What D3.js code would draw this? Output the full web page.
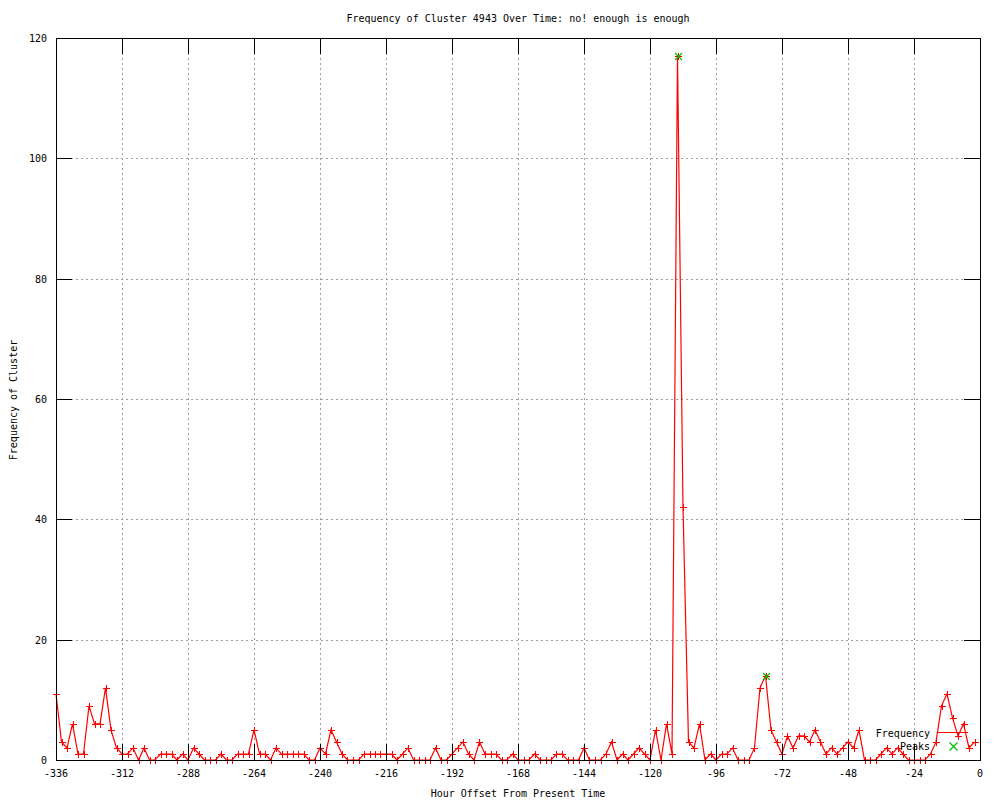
<!DOCTYPE html>
<html>
<head>
<meta charset="utf-8">
<script src="https://cdn.jsdelivr.net/npm/d3@7"></script>
<style>
  body { margin: 0; background: #fff; }
  text { font-family: "DejaVu Sans Mono", monospace; font-size: 10px; fill: #000; }
</style>
</head>
<body>
<div class="chart"></div>
<script>
// hours before now, one sample every 2 hours
const hours = [
  -336, -334, -332, -330, -328, -326, -324, -322, -320, -318, -316, -314,
  -312, -310, -308, -306, -304, -302, -300, -298, -296, -294, -292, -290,
  -288, -286, -284, -282, -280, -278, -276, -274, -272, -270, -268, -266,
  -264, -262, -260, -258, -256, -254, -252, -250, -248, -246, -244, -242,
  -240, -238, -236, -234, -232, -230, -228, -226, -224, -222, -220, -218,
  -216, -214, -212, -210, -208, -206, -204, -202, -200, -198, -196, -194,
  -192, -190, -188, -186, -184, -182, -180, -178, -176, -174, -172, -170,
  -168, -166, -164, -162, -160, -158, -156, -154, -152, -150, -148, -146,
  -144, -142, -140, -138, -136, -134, -132, -130, -128, -126, -124, -122,
  -120, -118, -116, -114, -112, -110, -108, -106, -104, -102, -100, -98,
  -96, -94, -92, -90, -88, -86, -84, -82, -80, -78, -76, -74,
  -72, -70, -68, -66, -64, -62, -60, -58, -56, -54, -52, -50,
  -48, -46, -44, -42, -40, -38, -36, -34, -32, -30, -28, -26,
  -24, -22, -20, -18, -16, -14, -12, -10, -8, -6, -4, -2
]
const frequency = [
  11, 3, 2, 6, 1, 1, 9, 6, 6, 12, 5, 2,
  1, 1, 2, 0, 2, 0, 0, 1, 1, 1, 0, 1,
  0, 2, 1, 0, 0, 0, 1, 0, 0, 1, 1, 1,
  5, 1, 1, 0, 2, 1, 1, 1, 1, 1, 0, 0,
  2, 1, 5, 3, 1, 0, 0, 0, 1, 1, 1, 1,
  1, 1, 0, 1, 2, 0, 0, 0, 0, 2, 0, 0,
  1, 2, 3, 1, 0, 3, 1, 1, 1, 0, 0, 1,
  0, 0, 0, 1, 0, 0, 0, 1, 1, 0, 0, 0,
  2, 0, 0, 0, 1, 3, 0, 1, 0, 1, 2, 1,
  0, 5, 0, 6, 1, 117, 42, 3, 2, 6, 0, 1,
  0, 1, 1, 2, 0, 0, 0, 2, 12, 14, 5, 3,
  1, 4, 2, 4, 4, 3, 5, 3, 1, 2, 1, 2,
  3, 2, 5, 0, 0, 0, 1, 2, 1, 2, 1, 0,
  0, 0, 0, 1, 3, 9, 11, 7, 4, 6, 2, 3
]
const peakHours = [-110, -78]
const peakValues = [117, 14]

const xTicks = [-336, -312, -288, -264, -240, -216, -192, -168, -144, -120, -96, -72, -48, -24, 0]
const yTicks = [0, 20, 40, 60, 80, 100, 120]

const titleText = "Frequency of Cluster 4943 Over Time: no! enough is enough"
const xLabel = "Hour Offset From Present Time"
const yLabel = "Frequency of Cluster"

let width = 1000
let height = 800
let plotLeft = 56, plotRight = 980, plotTop = 38, plotBottom = 760
let tic = 16

let svg = d3.select(".chart")
    .append("svg")
    .attr("width", width)
    .attr("height", height)

let x = d3.scaleLinear().domain([-336, 0]).range([plotLeft, plotRight])
let y = d3.scaleLinear().domain([0, 120]).range([plotBottom, plotTop])

// dotted grid
let grid = svg.append("g")
    .attr("stroke", "#a0a0a0")
    .attr("stroke-width", 1)
    .attr("stroke-dasharray", "2,3")
    .attr("shape-rendering", "crispEdges")

grid.selectAll("line.gx")
    .data(xTicks.slice(1, -1))
    .enter()
    .append("line")
    .attr("x1", d => Math.round(x(d)) + 0.5)
    .attr("x2", d => Math.round(x(d)) + 0.5)
    .attr("y1", plotTop)
    .attr("y2", plotBottom)

grid.selectAll("line.gy")
    .data(yTicks.slice(1, -1))
    .enter()
    .append("line")
    .attr("x1", plotLeft)
    .attr("x2", plotRight)
    .attr("y1", d => Math.round(y(d)) + 0.5)
    .attr("y2", d => Math.round(y(d)) + 0.5)

// frequency line
let points = hours.map((h, i) => [h, frequency[i]])

svg.append("path")
    .datum(points)
    .attr("fill", "none")
    .attr("stroke", "#ff0000")
    .attr("stroke-width", 1.2)
    .attr("d", d3.line()
        .x(d => x(d[0]))
        .y(d => y(d[1]))
    )

let plus = function (cx, cy, r) {
    cx = Math.round(cx) + 0.5
    cy = Math.round(cy) + 0.5
    return "M" + (cx - r) + "," + cy + "H" + (cx + r) + "M" + cx + "," + (cy - r) + "V" + (cy + r)
}
let cross = function (cx, cy, r) {
    cx = Math.round(cx) + 0.5
    cy = Math.round(cy) + 0.5
    return "M" + (cx - r) + "," + (cy - r) + "L" + (cx + r) + "," + (cy + r) +
        "M" + (cx - r) + "," + (cy + r) + "L" + (cx + r) + "," + (cy - r)
}

svg.append("g")
    .selectAll("path")
    .data(points)
    .enter()
    .append("path")
    .attr("d", d => plus(x(d[0]), y(d[1]), 3.5))
    .attr("stroke", "#ff0000")
    .attr("stroke-width", 1)
    .attr("fill", "none")

// peaks
svg.append("g")
    .selectAll("path")
    .data(peakHours)
    .enter()
    .append("path")
    .attr("d", (d, i) => cross(x(d), y(peakValues[i]), 3.5))
    .attr("stroke", "#00c000")
    .attr("stroke-width", 1.2)
    .attr("fill", "none")

// border on top
svg.append("rect")
    .attr("x", plotLeft + 0.5)
    .attr("y", plotTop + 0.5)
    .attr("width", plotRight - plotLeft)
    .attr("height", plotBottom - plotTop)
    .attr("fill", "none")
    .attr("stroke", "#000")
    .attr("stroke-width", 1)
    .attr("shape-rendering", "crispEdges")

// ticks, mirrored on the opposite sides
let ticks = svg.append("g")
    .attr("stroke", "#000")
    .attr("stroke-width", 1)
    .attr("shape-rendering", "crispEdges")

xTicks.forEach(function (t) {
    let px = Math.round(x(t)) + 0.5
    ticks.append("line").attr("x1", px).attr("x2", px).attr("y1", plotBottom).attr("y2", plotBottom - tic)
    ticks.append("line").attr("x1", px).attr("x2", px).attr("y1", plotTop).attr("y2", plotTop + tic)
})
yTicks.forEach(function (t) {
    let py = Math.round(y(t)) + 0.5
    ticks.append("line").attr("x1", plotLeft).attr("x2", plotLeft + tic).attr("y1", py).attr("y2", py)
    ticks.append("line").attr("x1", plotRight).attr("x2", plotRight - tic).attr("y1", py).attr("y2", py)
})

// tick labels
svg.append("g")
    .selectAll("text")
    .data(xTicks)
    .enter()
    .append("text")
    .attr("x", d => x(d))
    .attr("y", 777)
    .style("text-anchor", "middle")
    .text(d => d)

svg.append("g")
    .selectAll("text")
    .data(yTicks)
    .enter()
    .append("text")
    .attr("x", 47)
    .attr("y", d => y(d) + 4)
    .style("text-anchor", "end")
    .text(d => d)

// titles
svg.append("text")
    .attr("x", 518)
    .attr("y", 22)
    .style("text-anchor", "middle")
    .text(titleText)

svg.append("text")
    .attr("x", 518)
    .attr("y", 797)
    .style("text-anchor", "middle")
    .text(xLabel)

svg.append("text")
    .attr("transform", "translate(17,400) rotate(-90)")
    .style("text-anchor", "middle")
    .text(yLabel)

// key
svg.append("text")
    .attr("x", 930)
    .attr("y", 737)
    .style("text-anchor", "end")
    .text("Frequency")
svg.append("line")
    .attr("x1", 938)
    .attr("x2", 968)
    .attr("y1", 732.5)
    .attr("y2", 732.5)
    .attr("stroke", "#ff0000")
    .attr("stroke-width", 1)
svg.append("text")
    .attr("x", 930)
    .attr("y", 750)
    .style("text-anchor", "end")
    .text("Peaks")
svg.append("path")
    .attr("d", cross(953, 745.5, 4))
    .attr("stroke", "#00c000")
    .attr("stroke-width", 1.2)
    .attr("fill", "none")
</script>
</body>
</html>
